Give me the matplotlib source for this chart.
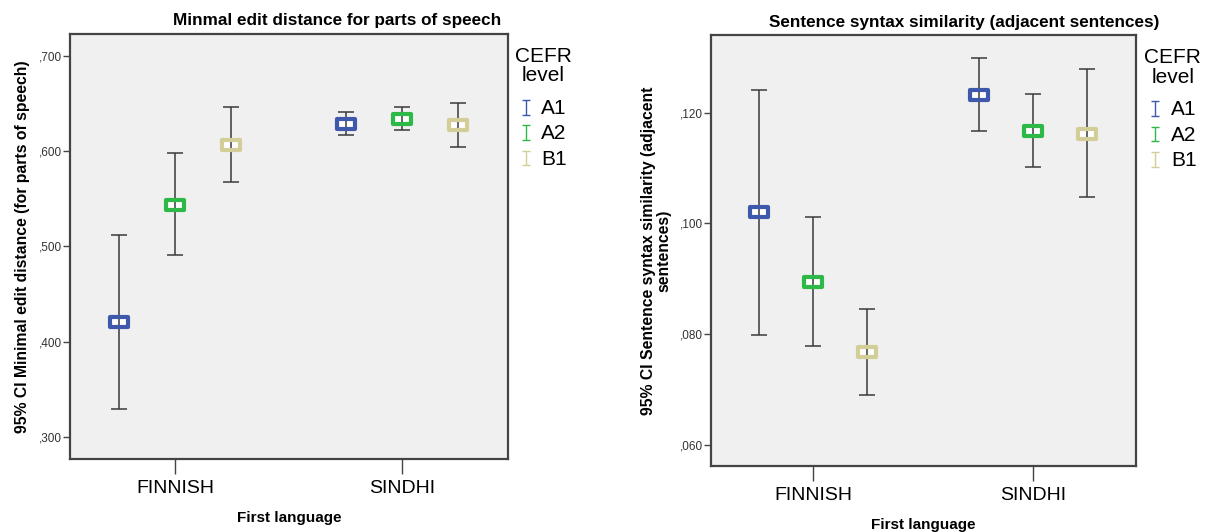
import matplotlib
matplotlib.use("Agg")
import matplotlib.pyplot as plt
import numpy as np
from matplotlib.path import Path
from matplotlib.ticker import FuncFormatter
from matplotlib.container import ErrorbarContainer
from matplotlib.legend_handler import HandlerErrorbar

plt.rcParams['font.family'] = ['Liberation Sans', 'DejaVu Sans']

languages = ["FINNISH", "SINDHI"]
levels = ["A1", "A2", "B1"]
level_colors = ["#3E58AC", "#2EB848", "#D3CE97"]

# minimal edit distance: mean, lower CI, upper CI  [language][level]
med_mean = [[0.4205, 0.544, 0.6065], [0.628, 0.634, 0.627]]
med_low = [[0.329, 0.491, 0.568], [0.617, 0.622, 0.604]]
med_high = [[0.512, 0.598, 0.646], [0.641, 0.646, 0.651]]

# sentence syntax similarity
sss_mean = [[0.102, 0.0895, 0.0767], [0.1232, 0.1167, 0.1162]]
sss_low = [[0.0799, 0.0779, 0.069], [0.1166, 0.1102, 0.1047]]
sss_high = [[0.1241, 0.1012, 0.0846], [0.1298, 0.1233, 0.1279]]

# rectangular hollow marker like SPSS
box = Path([(-1, -0.55), (1, -0.55), (1, 0.55), (-1, 0.55), (-1, -0.55)],
           [Path.MOVETO, Path.LINETO, Path.LINETO, Path.LINETO, Path.CLOSEPOLY])


def fmt(v, pos):
    return "{0:.3f}".format(v).replace("0.", ",", 1)


def draw_panel(ax, mean, low, high, ylim, ticks, legx):
    ax.set_facecolor("#F0F0F0")
    offset = 0.247
    for j, lvl in enumerate(levels):
        x = np.arange(len(languages)) + (j - 1) * offset
        m = np.array([mean[i][j] for i in range(len(languages))])
        lo = np.array([low[i][j] for i in range(len(languages))])
        hi = np.array([high[i][j] for i in range(len(languages))])
        ax.plot(x, m, linestyle="none", marker=box, markersize=12.5,
                markerfacecolor="white", markeredgecolor="none", zorder=2)
        ax.errorbar(x, m, yerr=[m - lo, hi - m], fmt="none", ecolor="#3a3a3a",
                    elinewidth=1.1, capsize=5.5, capthick=1.1, zorder=3)
        ax.plot(x, m, linestyle="none", marker=box, markersize=12.5,
                markerfacecolor="none", markeredgecolor=level_colors[j],
                markeredgewidth=3, zorder=4)
        # legend proxy
        ax.errorbar([np.nan], [np.nan], yerr=[[0], [0]], fmt="none",
                    ecolor=level_colors[j], elinewidth=1.0, capsize=3,
                    capthick=1.0, label=lvl)
    ax.set_xlim(-0.464, 1.468)
    ax.set_ylim(*ylim)
    ax.set_yticks(ticks)
    ax.yaxis.set_major_formatter(FuncFormatter(fmt))
    ax.set_xticks(range(len(languages)))
    ax.set_xticklabels(languages, fontsize=14)
    ax.tick_params(axis="y", length=5, width=1, color="#444444",
                   labelsize=8.5, labelcolor="#333333", pad=1)
    ax.tick_params(axis="x", length=11, width=1, color="#444444", pad=4)
    for s in ax.spines.values():
        s.set_color("#444444")
        s.set_linewidth(1.6)
    ax.set_xlabel("First language", fontsize=11, fontweight="bold", labelpad=10)
    leg = ax.legend(title="CEFR\nlevel", loc="upper left",
                    bbox_to_anchor=(legx, 0.99), frameon=False, fontsize=15,
                    title_fontsize=15, handlelength=0.6, handleheight=0.5,
                    handletextpad=0.45, labelspacing=0.3, borderaxespad=0,
                    numpoints=1, alignment="center",
                    handler_map={ErrorbarContainer: HandlerErrorbar(yerr_size=0.35)})
    leg.get_title().set_multialignment("center")
    leg.get_title().set_linespacing(1.05)
    leg._legend_box.sep = 10
    return leg


fig = plt.figure(figsize=(12.05, 5.32), dpi=100)
ax1 = fig.add_axes([0.0581, 0.1372, 0.3635, 0.799])
ax2 = fig.add_axes([0.590, 0.124, 0.3527, 0.810])

draw_panel(ax1, med_mean, med_low, med_high, (0.277, 0.723),
           [0.3, 0.4, 0.5, 0.6, 0.7], 0.996)
ax1.set_ylabel("95% CI Minimal edit distance (for parts of speech)",
               fontsize=11.3, fontweight="bold", labelpad=6)

draw_panel(ax2, sss_mean, sss_low, sss_high, (0.0562, 0.134),
           [0.06, 0.08, 0.10, 0.12], 1.0)
ax2.set_ylabel("95% CI Sentence syntax similarity (adjacent\nsentences)",
               fontsize=11.3, fontweight="bold", labelpad=6, linespacing=1.0)

fig.text(337 / 1205, 1 - 21 / 532, "Minmal edit distance for parts of speech",
         ha="center", va="center", fontsize=12.3, fontweight="bold")
fig.text(964 / 1205, 1 - 22 / 532, "Sentence syntax similarity (adjacent sentences)",
         ha="center", va="center", fontsize=12.3, fontweight="bold")

fig.savefig("out.png", dpi=100)
